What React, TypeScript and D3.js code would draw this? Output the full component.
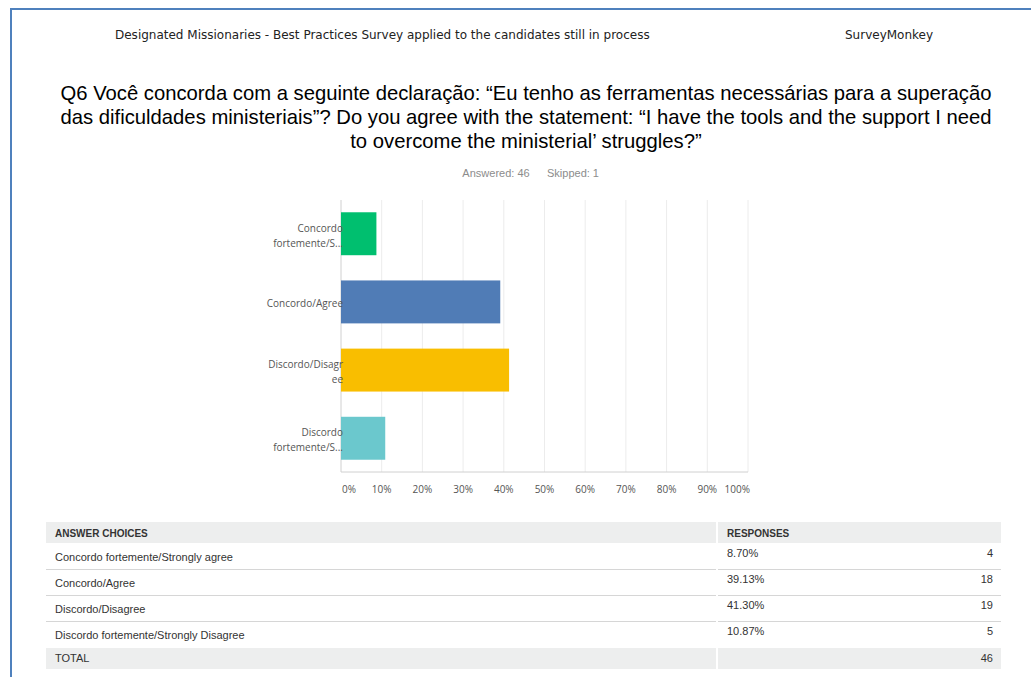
import React from "react";
import * as d3 from "d3";

const W = 1031;
const H = 677;

const headerLeft = "Designated Missionaries - Best Practices Survey applied to the candidates still in process";
const headerRight = "SurveyMonkey";
const titleLines = [
  "Q6 Você concorda com a seguinte declaração: “Eu tenho as ferramentas necessárias para a superação",
  "das dificuldades ministeriais”? Do you agree with the statement: “I have the tools and the support I need",
  "to overcome the ministerial’ struggles?”",
];
const answeredText = "Answered: 46";
const skippedText = "Skipped: 1";

const categories = ["cf", "c", "d", "df"];
const axisLabelLines = [
  ["Concordo", "fortemente/S..."],
  ["Concordo/Agree"],
  ["Discordo/Disagr", "ee"],
  ["Discordo", "fortemente/S..."],
];
const percentages = [8.7, 39.13, 41.3, 10.87];
const counts = [4, 18, 19, 5];
const barColors = ["#00bf6f", "#507cb6", "#f9be00", "#6bc8cd"];
const tickValues = [0, 10, 20, 30, 40, 50, 60, 70, 80, 90, 100];

const choiceNames = [
  "Concordo fortemente/Strongly agree",
  "Concordo/Agree",
  "Discordo/Disagree",
  "Discordo fortemente/Strongly Disagree",
];
const percentLabels = ["8.70%", "39.13%", "41.30%", "10.87%"];
const totalCount = 46;

export default function App() {
  const x = d3.scaleLinear().domain([0, 100]).range([341, 748]);
  const y = d3.scaleBand().domain(categories).range([200, 472]).paddingInner(0.37).paddingOuter(0.18);

  const tableLeft = 46;
  const tableSplit = 717;
  const tableRight = 1001;
  const headerTop = 522;
  const headerH = 21;
  const rowH = 26;
  const rowsTop = headerTop + headerH;

  const labelFont = "'Open Sans', 'DejaVu Sans', sans-serif";
  const arial = "'Liberation Sans', Arial, sans-serif";

  return (
    <svg width={W} height={H} style={{ position: "absolute", left: 0, top: 0, background: "#fff" }}>
      {/* frame */}
      <line x1={11} y1={9} x2={W} y2={9} stroke="#4f81bd" strokeWidth={2} />
      <line x1={11} y1={8} x2={11} y2={H} stroke="#4f81bd" strokeWidth={2} />

      {/* page header */}
      <text x={115} y={39} fontFamily="'DejaVu Sans', sans-serif" fontSize={12} fill="#222">
        {headerLeft}
      </text>
      <text x={845} y={39} fontFamily="'DejaVu Sans', sans-serif" fontSize={12} fill="#222">
        {headerRight}
      </text>

      {/* title */}
      {titleLines.map((t, i) => (
        <text key={i} x={526} y={100 + i * 24} textAnchor="middle" fontFamily={arial} fontSize={20.25} fill="#000">
          {t}
        </text>
      ))}
      <text x={496} y={177} textAnchor="middle" fontFamily={arial} fontSize={11} fill="#8c8c8c">
        {answeredText}
      </text>
      <text x={573} y={177} textAnchor="middle" fontFamily={arial} fontSize={11} fill="#8c8c8c">
        {skippedText}
      </text>

      {/* gridlines */}
      {tickValues.slice(1).map((v) => (
        <line key={v} x1={x(v)} x2={x(v)} y1={200} y2={472} stroke="#ececec" strokeWidth={1} />
      ))}
      <line x1={x(0)} x2={x(0)} y1={200} y2={472} stroke="#d0d0d0" strokeWidth={1} />
      <line x1={x(0)} x2={x(100)} y1={472} y2={472} stroke="#d0d0d0" strokeWidth={1} />

      {/* bars */}
      {categories.map((c, i) => (
        <rect key={c} x={x(0)} y={y(c)} width={x(percentages[i]) - x(0)} height={y.bandwidth()} fill={barColors[i]} />
      ))}

      {/* category labels */}
      {categories.map((c, i) => {
        const lines = axisLabelLines[i];
        const cy = (y(c) as number) + y.bandwidth() / 2;
        const lh = 15;
        const start = cy - ((lines.length - 1) * lh) / 2 + 5.5;
        return lines.map((l, j) => (
          <text key={c + j} x={343} y={start + j * lh} textAnchor="end" fontFamily={labelFont} fontSize={10} fill="#555">
            {l}
          </text>
        ));
      })}

      {/* x tick labels */}
      {tickValues.map((v, i) => (
        <text
          key={v}
          x={i === 0 ? x(v) + 1 : i === tickValues.length - 1 ? x(v) + 2 : x(v)}
          y={493}
          textAnchor={i === 0 ? "start" : i === tickValues.length - 1 ? "end" : "middle"}
          fontFamily={labelFont}
          fontSize={10}
          fill="#555"
        >
          {v + "%"}
        </text>
      ))}

      {/* table header */}
      <rect x={tableLeft} y={headerTop} width={tableSplit - tableLeft - 1} height={headerH} fill="#edeeee" />
      <rect x={tableSplit + 1} y={headerTop} width={tableRight - tableSplit - 1} height={headerH} fill="#edeeee" />
      <text x={55} y={537} fontFamily={arial} fontSize={10} fontWeight="bold" fill="#333">ANSWER CHOICES</text>
      <text x={727} y={537} fontFamily={arial} fontSize={10} fontWeight="bold" fill="#333">RESPONSES</text>

      {choiceNames.map((n, i) => {
        const top = rowsTop + i * rowH;
        return (
          <g key={n}>
            <text x={55} y={top + 18} fontFamily={arial} fontSize={11} fill="#333">{n}</text>
            <text x={727} y={top + 14} fontFamily={arial} fontSize={11} fill="#333">{percentLabels[i]}</text>
            <text x={993} y={top + 14} textAnchor="end" fontFamily={arial} fontSize={11} fill="#333">{counts[i]}</text>
            {i < choiceNames.length - 1 && (
              <>
                <line x1={tableLeft} x2={tableSplit - 1} y1={top + rowH + 0.5} y2={top + rowH + 0.5} stroke="#d6d6d6" />
                <line x1={tableSplit + 1} x2={tableRight} y1={top + rowH + 0.5} y2={top + rowH + 0.5} stroke="#d6d6d6" />
              </>
            )}
          </g>
        );
      })}

      {/* total row */}
      <rect x={tableLeft} y={648} width={tableSplit - tableLeft - 1} height={21} fill="#edeeee" />
      <rect x={tableSplit + 1} y={648} width={tableRight - tableSplit - 1} height={21} fill="#edeeee" />
      <text x={55} y={662} fontFamily={arial} fontSize={11} fill="#333">TOTAL</text>
      <text x={993} y={662} textAnchor="end" fontFamily={arial} fontSize={11} fill="#333">{totalCount}</text>
    </svg>
  );
}
